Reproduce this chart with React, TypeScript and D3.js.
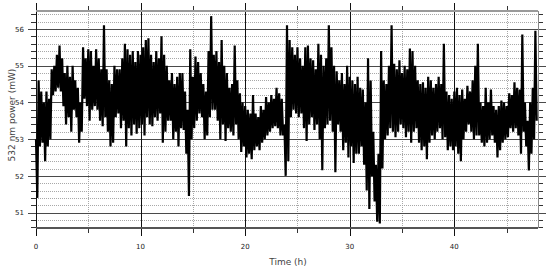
import React, { useEffect, useRef } from "react";
import * as d3 from "d3";

// power envelope, one pair per quarter hour
const binHours = 0.25;

const hiPower = [
  53.0, 54.6, 54.3, 54.0, 54.3, 54.1, 54.9, 55.0, 55.3, 55.55, 55.2, 54.8, 55.0, 54.7, 55.0, 54.6,
  54.4, 54.0, 55.5, 55.2, 55.45, 55.4, 55.0, 55.45, 55.2, 54.9, 56.1, 54.9, 54.6, 54.5, 55.0, 54.9,
  54.9, 55.2, 55.6, 55.45, 55.3, 55.4, 55.1, 55.4, 55.3, 55.5, 55.7, 55.75, 55.3, 55.1, 55.4, 55.2,
  55.8, 55.3, 55.0, 54.6, 54.8, 54.5, 54.7, 54.8, 54.8, 54.3, 53.8, 55.45, 54.7, 55.25, 55.1, 54.8,
  54.5, 54.3, 55.4, 56.35, 55.3, 55.4, 55.1, 55.7, 55.0, 54.8, 54.4, 54.5, 55.55, 54.6, 54.25, 54.0,
  53.9, 53.8, 53.7, 54.2, 53.7, 53.6, 53.9, 53.8, 54.15, 54.0, 54.2, 54.1, 54.4, 54.25, 54.1, 53.4,
  56.1, 55.7, 55.5, 55.3, 55.5, 55.2, 55.0, 55.5, 55.55, 55.2, 55.15, 54.9, 55.6, 55.3, 55.0, 55.2,
  56.1, 55.5, 55.0, 54.85, 54.6, 54.8, 54.5, 55.0, 54.7, 54.6, 54.5, 54.7, 54.4, 54.35, 54.0, 55.2,
  54.6, 53.2, 52.3, 52.6, 55.4, 54.6, 54.5, 55.0, 56.1, 55.05, 54.9, 55.15, 54.8, 55.0, 54.9, 55.47,
  55.4, 55.0, 54.6, 54.5, 54.55, 54.4, 54.7, 54.6, 54.4, 54.5, 54.7, 54.5, 55.6, 54.3, 54.2, 54.1,
  54.3, 54.4, 54.2, 54.35, 54.1, 54.45, 54.3, 54.6, 55.0, 55.6, 54.0, 53.9, 54.4, 54.0, 54.35, 53.9,
  53.8, 53.9, 54.05, 54.0, 53.9, 54.25, 54.2, 54.55, 54.4, 54.35, 55.85, 54.0, 53.5, 54.0, 54.4, 55.95,
];

const loPower = [
  51.4, 52.8, 52.9, 52.4, 52.8, 53.0, 54.2, 54.3, 54.4, 54.3, 53.9, 53.4, 53.6, 53.2, 53.8, 53.6,
  52.9, 53.2, 54.1, 53.9, 53.5, 53.8, 53.9, 53.8, 53.5, 53.35, 53.6, 53.2, 52.8, 52.9, 53.6, 53.7,
  53.3, 53.5, 52.8, 53.3, 53.1, 53.4, 53.15, 53.3, 53.4, 53.1, 53.6, 53.4, 53.35, 53.6, 53.5, 53.7,
  52.9, 53.2, 53.5, 53.5, 53.0, 53.2, 52.8, 53.3, 53.25, 52.6, 51.45, 53.0, 53.3, 53.5, 53.7, 53.6,
  53.0, 53.1, 53.6, 53.8, 53.8, 53.5, 53.0, 53.4, 52.95, 53.3, 53.2, 53.1, 53.4, 53.0, 52.65, 52.8,
  52.5, 52.6, 52.45, 52.7, 52.8, 52.7, 52.9, 53.0, 53.1, 53.2, 53.3, 53.35, 53.3, 53.1, 53.1, 52.0,
  52.4, 53.6, 53.8, 53.7, 53.6, 53.7, 53.3, 52.95, 53.4, 53.6, 53.25, 53.4, 53.0, 52.15, 53.3, 53.4,
  53.5, 53.2, 52.1, 53.4, 53.2, 52.7, 52.9, 52.5, 52.8, 52.35, 52.6, 52.6, 52.8, 52.3, 51.6, 51.1,
  52.0, 51.3, 50.75, 50.7, 52.2, 53.0, 53.1, 53.3, 53.2, 53.05, 53.2, 53.4, 53.3, 53.05, 53.2, 52.9,
  53.2, 53.3, 52.9, 52.7, 52.8, 52.45, 52.9, 53.1, 53.0, 53.2, 53.3, 53.0, 53.05, 52.7, 52.8, 52.7,
  52.8, 52.6, 52.4, 53.0, 53.2, 53.4, 53.2, 53.0, 53.1, 53.1, 52.9, 52.8, 52.9, 53.0, 53.1, 52.9,
  52.5, 52.7, 52.9, 53.0, 53.05, 53.3, 53.2, 53.3, 53.1, 52.6, 53.2, 52.8, 52.15, 52.6, 53.0, 53.5,
];

const timeMajor = [0, 10, 20, 30, 40];
const timeMinor = [5, 15, 25, 35, 45];
const powerMajor = [51, 52, 53, 54, 55, 56];

const App = () => {
  const svgRef = useRef(null);

  useEffect(() => {
    const left = 36, right = 538, top = 11, bottom = 228;
    const x = d3.scaleLinear().domain([0, 48]).range([left, right]);
    const y = d3.scaleLinear().domain([50.58, 56.49]).range([bottom, top]);
    const px = (v) => Math.round(v) + 0.5;

    const svg = d3.select(svgRef.current);
    svg.selectAll("*").remove();

    const powerMinor = d3
      .range(50.6, 56.5, 0.2)
      .map((v) => +v.toFixed(1))
      .filter((v) => !powerMajor.includes(v));

    const grid = svg.append("g").attr("shape-rendering", "crispEdges");

    // dotted minor grid
    grid
      .selectAll(".hminor")
      .data(powerMinor.filter((v) => y(v) < bottom - 2))
      .join("line")
      .attr("x1", left).attr("x2", right)
      .attr("y1", (d) => px(y(d))).attr("y2", (d) => px(y(d)))
      .attr("stroke", "#a8a8a8")
      .attr("stroke-dasharray", "1,1");

    grid
      .selectAll(".vminor")
      .data(timeMinor)
      .join("line")
      .attr("x1", (d) => px(x(d))).attr("x2", (d) => px(x(d)))
      .attr("y1", top).attr("y2", bottom)
      .attr("stroke", "#a8a8a8")
      .attr("stroke-dasharray", "1,1");

    // solid major grid
    grid
      .selectAll(".hmajor")
      .data(powerMajor)
      .join("line")
      .attr("x1", left - 8).attr("x2", right + 8)
      .attr("y1", (d) => px(y(d))).attr("y2", (d) => px(y(d)))
      .attr("stroke", "#4a4a4a");

    grid
      .selectAll(".vmajor")
      .data(timeMajor)
      .join("line")
      .attr("x1", (d) => px(x(d))).attr("x2", (d) => px(x(d)))
      .attr("y1", 3).attr("y2", bottom + 8)
      .attr("stroke", "#111");

    // minor ticks
    grid
      .selectAll(".yt")
      .data(powerMinor)
      .join("line")
      .attr("x1", left - 5).attr("x2", left)
      .attr("y1", (d) => px(y(d))).attr("y2", (d) => px(y(d)))
      .attr("stroke", "#333");

    grid
      .selectAll(".yt2")
      .data(powerMinor)
      .join("line")
      .attr("x1", right).attr("x2", right + 5)
      .attr("y1", (d) => px(y(d))).attr("y2", (d) => px(y(d)))
      .attr("stroke", "#333");

    grid
      .selectAll(".xt")
      .data(timeMinor)
      .join("line")
      .attr("x1", (d) => px(x(d))).attr("x2", (d) => px(x(d)))
      .attr("y1", bottom).attr("y2", bottom + 5)
      .attr("stroke", "#333");

    grid
      .selectAll(".xt2")
      .data(timeMinor)
      .join("line")
      .attr("x1", (d) => px(x(d))).attr("x2", (d) => px(x(d)))
      .attr("y1", top - 5).attr("y2", top)
      .attr("stroke", "#333");

    // frame
    grid.append("line")
      .attr("x1", left).attr("x2", right).attr("y1", top).attr("y2", top)
      .attr("stroke", "#9a9a9a").attr("stroke-width", 2);
    grid.append("line")
      .attr("x1", left).attr("x2", right).attr("y1", bottom).attr("y2", bottom)
      .attr("stroke", "#555").attr("stroke-width", 2);
    grid.append("line")
      .attr("x1", px(right)).attr("x2", px(right)).attr("y1", top).attr("y2", bottom)
      .attr("stroke", "#888");

    // trace: zigzag between the high and low reading of each bin
    const points = [];
    hiPower.forEach((h, i) => {
      points.push([i * binHours, h]);
      points.push([i * binHours + binHours / 2, loPower[i]]);
    });

    const line = d3.line().x((d) => x(d[0])).y((d) => y(d[1]));

    svg.append("path")
      .datum(points)
      .attr("d", line)
      .attr("fill", "none")
      .attr("stroke", "#000")
      .attr("stroke-width", 2.2)
      .attr("stroke-linejoin", "bevel");

    // tick labels
    const labels = svg.append("g")
      .style("font-family", "'DejaVu Sans', Verdana, sans-serif")
      .style("font-size", "7px")
      .attr("fill", "#222");

    labels.selectAll(".yl")
      .data(powerMajor)
      .join("text")
      .attr("x", 24)
      .attr("y", (d) => y(d))
      .attr("dy", "0.38em")
      .attr("text-anchor", "end")
      .text((d) => d);

    labels.selectAll(".xl")
      .data(timeMajor)
      .join("text")
      .attr("x", (d) => x(d))
      .attr("y", 248.5)
      .attr("text-anchor", "middle")
      .text((d) => d);

    // axis titles
    svg.append("text")
      .attr("transform", `translate(15,115) rotate(-90)`)
      .attr("text-anchor", "middle")
      .style("font-family", "'DejaVu Sans', Verdana, sans-serif")
      .style("font-size", "9px")
      .attr("fill", "#444")
      .text("532 nm power (mW)");

    svg.append("text")
      .attr("x", 288)
      .attr("y", 265)
      .attr("text-anchor", "middle")
      .style("font-family", "'DejaVu Sans', Verdana, sans-serif")
      .style("font-size", "9px")
      .attr("fill", "#444")
      .text("Time (h)");
  }, []);

  return (
    <div style={{ position: "absolute", left: 0, top: 0, background: "#fff" }}>
      <svg ref={svgRef} width={550} height={269} style={{ display: "block" }} />
    </div>
  );
};

export default App;
